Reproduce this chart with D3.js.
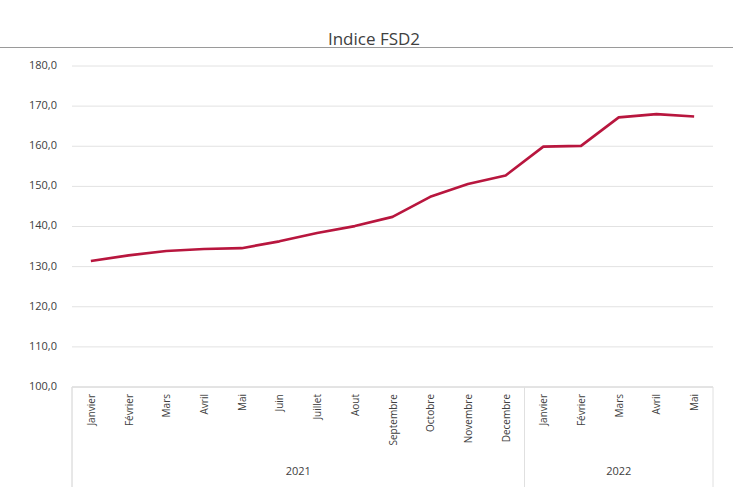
<!DOCTYPE html>
<html>
<head>
<meta charset="utf-8">
<script src="https://cdn.jsdelivr.net/npm/d3@7"></script>
<style>
  body { margin: 0; background: #fff; }
  text { font-family: "Open Sans", "Noto Sans", sans-serif; fill: #404040; }
</style>
</head>
<body>
<svg id="chart" width="733" height="487"></svg>
<script>
// categories (month, year)
let months = ["Janvier", "Février", "Mars", "Avril", "Mai", "Juin", "Juillet", "Aout",
  "Septembre", "Octobre", "Novembre", "Decembre",
  "Janvier", "Février", "Mars", "Avril", "Mai"];
let years = ["2021", "2021", "2021", "2021", "2021", "2021", "2021", "2021",
  "2021", "2021", "2021", "2021",
  "2022", "2022", "2022", "2022", "2022"];
let indexValues = [131.4, 132.8, 133.9, 134.4, 134.6, 136.3, 138.4, 140.1,
  142.4, 147.4, 150.6, 152.7, 159.9, 160.1, 167.2, 168.0, 167.4];
let yTicks = [100, 110, 120, 130, 140, 150, 160, 170, 180];

let svg = d3.select("#chart");
let W = 733, H = 487;
let margin = { left: 72, right: 20, top: 66, bottom: 100 };

// sheet line behind the title
svg.append("line")
  .attr("x1", 0).attr("x2", W)
  .attr("y1", 47.5).attr("y2", 47.5)
  .style("stroke", "#9a9a9a")
  .style("stroke-width", 1);

svg.append("text")
  .attr("x", 374)
  .attr("y", 45)
  .text("Indice FSD2")
  .style("text-anchor", "middle")
  .style("font-size", 17);

let keys = months.map((m, i) => i);
let x = d3.scaleBand()
  .domain(keys)
  .range([margin.left, W - margin.right]);

let y = d3.scaleLinear()
  .domain([100, 180])
  .range([H - margin.bottom, margin.top]);

// gridlines
svg.append("g")
  .selectAll("line")
  .data(yTicks)
  .join("line")
  .attr("x1", margin.left)
  .attr("x2", W - margin.right)
  .attr("y1", d => y(d))
  .attr("y2", d => y(d))
  .style("stroke", d => d == 100 ? "#c8c8c8" : "#e2e2e2")
  .style("stroke-width", 1);

// y tick labels
svg.append("g")
  .selectAll("text")
  .data(yTicks)
  .join("text")
  .attr("x", 57)
  .attr("y", d => y(d))
  .text(d => d3.format(".1f")(d).replace(".", ","))
  .style("text-anchor", "end")
  .style("dominant-baseline", "middle")
  .style("font-size", 11);

// month labels, rotated
svg.append("g")
  .selectAll("text")
  .data(keys)
  .join("text")
  .attr("transform", d => "translate(" + (x(d) + x.bandwidth() / 2 + 4) + "," + (y(100) + 7) + ")rotate(-90)")
  .text(d => months[d])
  .style("text-anchor", "end")
  .style("font-size", 10);

// year groups
let yearGroups = d3.groups(keys, d => years[d]);
let sepLines = [margin.left, W - margin.right];
for (let [yr, idx] of yearGroups) {
  let x0 = x(idx[0]);
  let x1 = x(idx[idx.length - 1]) + x.bandwidth();
  sepLines.push(x0);
  svg.append("text")
    .attr("x", (x0 + x1) / 2)
    .attr("y", 475)
    .text(yr)
    .style("text-anchor", "middle")
    .style("font-size", 11);
}
svg.append("g")
  .selectAll("line")
  .data(sepLines)
  .join("line")
  .attr("x1", d => d).attr("x2", d => d)
  .attr("y1", y(100)).attr("y2", H)
  .style("stroke", "#e0e0e0")
  .style("stroke-width", 1);

// the index line
let line = d3.line()
  .x(d => x(d) + x.bandwidth() / 2)
  .y(d => y(indexValues[d]));

svg.append("path")
  .datum(keys)
  .attr("d", line)
  .style("fill", "none")
  .style("stroke", "#b8163e")
  .style("stroke-width", 2.6)
  .style("stroke-linejoin", "round");
</script>
</body>
</html>
